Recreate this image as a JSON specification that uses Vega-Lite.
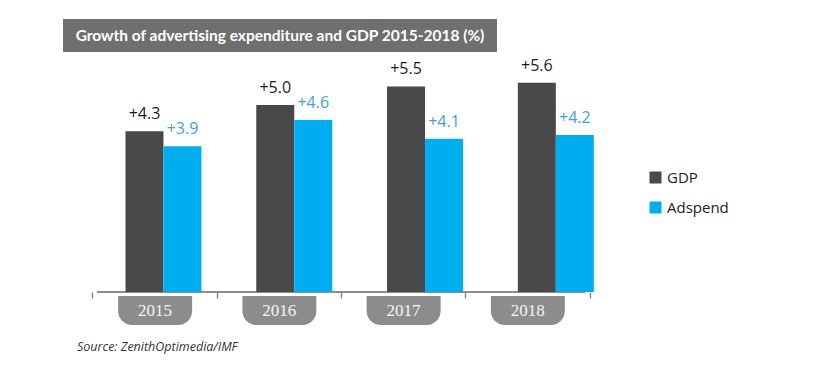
{
  "$schema": "https://vega.github.io/schema/vega-lite/v6.json",
  "padding": {"left": 63, "top": 19, "right": 5, "bottom": 5},
  "background": "white",
  "config": {"view": {"stroke": null}, "font": "Open Sans"},
  "spacing": 5,
  "datasets": {
    "growth": [
      {"year": 2015, "series": "GDP", "value": 4.3},
      {"year": 2015, "series": "Adspend", "value": 3.9},
      {"year": 2016, "series": "GDP", "value": 5.0},
      {"year": 2016, "series": "Adspend", "value": 4.6},
      {"year": 2017, "series": "GDP", "value": 5.5},
      {"year": 2017, "series": "Adspend", "value": 4.1},
      {"year": 2018, "series": "GDP", "value": 5.6},
      {"year": 2018, "series": "Adspend", "value": 4.2}
    ]
  },
  "vconcat": [
    {
      "width": 434,
      "height": 33,
      "view": {"fill": "#6f6f6f", "stroke": null},
      "data": {"values": [{"t": "Growth of advertising expenditure and GDP 2015-2018 (%)"}]},
      "mark": {"type": "text", "color": "white", "fontWeight": "bold", "fontSize": 15.5, "font": "Lato", "baseline": "middle"},
      "encoding": {"text": {"field": "t", "type": "nominal"}}
    },
    {
      "width": 527,
      "height": 231,
      "data": {"name": "growth"},
      "title": {
        "text": "Source: ZenithOptimedia/IMF",
        "orient": "bottom",
        "anchor": "start",
        "frame": "group",
        "dx": 14,
        "offset": 16,
        "fontSize": 12.5,
        "fontStyle": "italic",
        "fontWeight": "normal",
        "color": "#333333",
        "font": "Open Sans"
      },
      "layer": [
        {
          "transform": [{"filter": "datum.series === 'GDP'"}],
          "layer": [
            {
              "mark": {"type": "bar", "color": "#8c8c8c", "size": 74, "cornerRadiusBottomLeft": 14, "cornerRadiusBottomRight": 14},
              "encoding": {
                "x": {
                  "field": "year",
                  "type": "ordinal",
                  "scale": {"paddingInner": 0, "paddingOuter": 0.1207, "align": 1},
                  "axis": {
                    "title": null,
                    "labels": false,
                    "domain": false,
                    "bandPosition": 1,
                    "tickExtra": true,
                    "tickSize": 6,
                    "tickColor": "#8c8c8c",
                    "tickWidth": 1.5
                  }
                },
                "y": {
                  "datum": -0.107,
                  "type": "quantitative",
                  "scale": {"domain": [0, 6.18], "nice": false, "zero": false},
                  "axis": null
                },
                "y2": {"datum": -0.88}
              }
            },
            {
              "mark": {"type": "text", "font": "Liberation Serif", "fontSize": 17, "color": "#f5f5f5", "baseline": "middle"},
              "encoding": {
                "x": {"field": "year", "type": "ordinal"},
                "y": {"datum": -0.495, "type": "quantitative", "scale": {"domain": [0, 6.18], "nice": false, "zero": false}},
                "text": {"field": "year", "type": "ordinal"}
              }
            }
          ]
        },
        {
          "encoding": {
            "x": {
              "field": "year",
              "type": "quantitative",
              "scale": {"domain": [2014.27, 2018.223], "nice": false, "zero": false},
              "axis": null
            },
            "y": {
              "field": "value",
              "type": "quantitative",
              "scale": {"domain": [0, 6.18], "nice": false, "zero": false}
            }
          },
          "layer": [
            {
              "transform": [{"filter": "datum.series === 'GDP'"}],
              "mark": {"type": "rule", "color": "#8c8c8c", "strokeWidth": 1.5},
              "encoding": {
                "x": {"datum": 2014.495, "type": "quantitative"},
                "x2": {"datum": 2018.223},
                "y": {"datum": 0, "type": "quantitative"}
              }
            },
            {
              "transform": [{"filter": "datum.series === 'GDP'"}],
              "mark": {"type": "bar", "orient": "vertical", "size": 38, "xOffset": -19},
              "encoding": {
                "color": {
                  "field": "series",
                  "type": "nominal",
                  "scale": {"domain": ["GDP", "Adspend"], "range": ["#49484a", "#00aeef"]},
                  "legend": {
                    "title": null,
                    "orient": "none",
                    "legendX": 585,
                    "legendY": 151,
                    "symbolType": "square",
                    "symbolSize": 144,
                    "symbolStrokeWidth": 0,
                    "labelFontSize": 15,
                    "labelFont": "Open Sans",
                    "labelColor": "#222222",
                    "labelOffset": 4,
                    "rowPadding": 14
                  }
                }
              }
            },
            {
              "transform": [{"filter": "datum.series === 'Adspend'"}],
              "mark": {"type": "bar", "orient": "vertical", "size": 38, "xOffset": 19},
              "encoding": {
                "color": {"field": "series", "type": "nominal"}
              }
            },
            {
              "transform": [{"filter": "datum.series === 'GDP'"}],
              "mark": {"type": "text", "xOffset": -19, "yOffset": -17, "baseline": "middle", "fontSize": 16, "font": "Open Sans", "color": "#1e1e1e"},
              "encoding": {"text": {"field": "value", "type": "quantitative", "format": "+.1f"}}
            },
            {
              "transform": [{"filter": "datum.series === 'Adspend'"}],
              "mark": {"type": "text", "xOffset": 19, "yOffset": -17, "baseline": "middle", "fontSize": 16, "font": "Open Sans", "color": "#3fa2dc"},
              "encoding": {"text": {"field": "value", "type": "quantitative", "format": "+.1f"}}
            }
          ]
        }
      ],
      "resolve": {"scale": {"x": "independent"}, "axis": {"x": "independent"}}
    }
  ]
}
